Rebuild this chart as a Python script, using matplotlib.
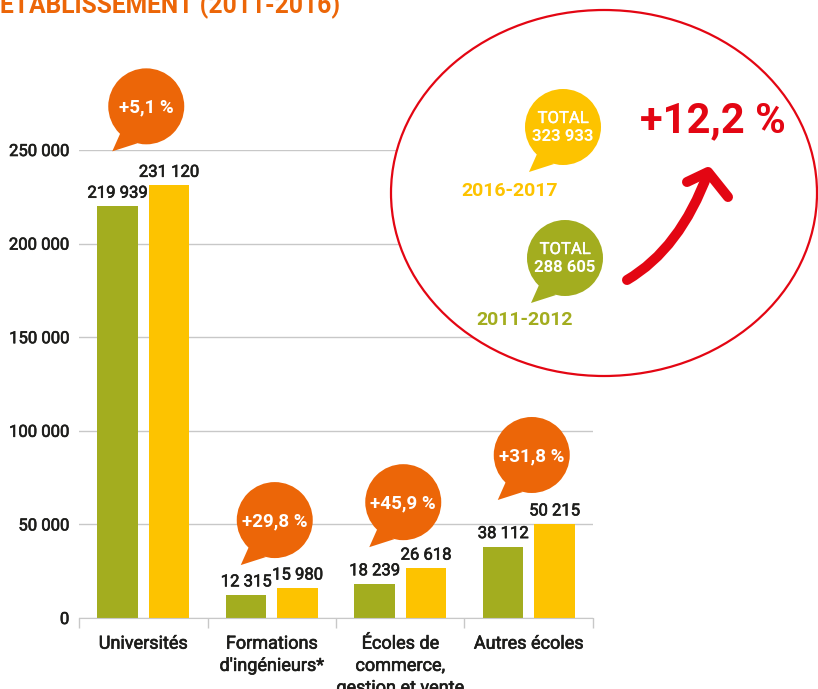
import matplotlib.pyplot as plt
import matplotlib.patheffects as pe
from matplotlib.patches import Circle, Polygon, Ellipse, PathPatch
from matplotlib.path import Path
import numpy as np

plt.rcParams['font.family'] = ['Roboto', 'DejaVu Sans']

# data
categories = ["Universités", "Formations\nd'ingénieurs*",
              "Écoles de\ncommerce,\ngestion et vente", "Autres écoles"]
effectifs_2011 = [219939, 12315, 18239, 38112]
effectifs_2016 = [231120, 15980, 26618, 50215]
y_ticks = [0, 50000, 100000, 150000, 200000, 250000]
periods = ["2011-2012", "2016-2017"]
title = "ÉTABLISSEMENT (2011-2016)"

GREEN = '#a3ad1f'
YELLOW = '#fdc300'
ORANGE = '#ec6608'
RED = '#e30613'
TEXT = '#1d1d1b'
GRID = '#c8c8c8'

# thicken regular Roboto a little so it reads like the medium weight
medium = [pe.withStroke(linewidth=0.45, foreground=TEXT)]


def fmt(v):
    return f"{int(v):,}".replace(",", " ")


def pct(a, b):
    return "+" + f"{(b / a - 1) * 100:.1f}".replace(".", ",") + " %"


W, H = 818, 689
fig = plt.figure(figsize=(W / 100, H / 100), dpi=100)
ax = fig.add_axes([79 / W, 71 / H, 514 / W, 468 / H])

x = np.arange(len(categories))
bw = 0.3125
b1 = ax.bar(x - 0.2, effectifs_2011, bw, color=GREEN, zorder=2)
b2 = ax.bar(x + 0.2, effectifs_2016, bw, color=YELLOW, zorder=2)
for bars, vals in [(b1, effectifs_2011), (b2, effectifs_2016)]:
    for t in ax.bar_label(bars, labels=[fmt(v) for v in vals], padding=4,
                          fontsize=12, color=TEXT):
        t.set_path_effects(medium)

ax.set_xlim(-0.5, 3.5)
ax.set_ylim(0, 250000)
ax.set_yticks(y_ticks, [fmt(v) for v in y_ticks])
ax.set_xticks(x, categories)
ax.set_xticks(np.arange(-0.5, 4, 1), minor=True)
ax.tick_params(axis='x', which='major', length=0, pad=12, labelsize=13, labelcolor=TEXT)
ax.tick_params(axis='x', which='minor', length=7, color=GRID, width=1)
ax.tick_params(axis='y', length=0, pad=7, labelsize=12, labelcolor=TEXT)
for lab in ax.get_xticklabels() + ax.get_yticklabels():
    lab.set_path_effects(medium)
for lab in ax.get_xticklabels():
    lab.set_linespacing(1.3)
ax.grid(axis='y', color=GRID, lw=1)
ax.set_axisbelow(True)
for s in ['top', 'right', 'left']:
    ax.spines[s].set_visible(False)
ax.spines['bottom'].set_color(GRID)

# overlay in pixel coordinates (y down) for the decorations
ov = fig.add_axes([0, 0, 1, 1])
ov.set_xlim(0, W)
ov.set_ylim(H, 0)
ov.axis('off')
ov.patch.set_alpha(0)


def bubble(cx, cy, r, color):
    ov.add_patch(Circle((cx, cy), r, color=color, lw=0, zorder=5))
    ov.add_patch(Polygon([(cx - 26, cy + 27), (cx - 34, cy + 45), (cx - 9, cy + r - 1)],
                         closed=True, color=color, lw=0, zorder=5))


# growth bubbles above each group
bubble_lift_px = [79, 68, 66, 69]
for i, (a, b) in enumerate(zip(effectifs_2011, effectifs_2016)):
    px, py = ax.transData.transform((i, max(a, b)))
    cx, cy = px + 3, H - py - bubble_lift_px[i]
    bubble(cx, cy, 38, ORANGE)
    ov.text(cx, cy + 6.5, pct(a, b), ha='center', va='baseline', fontsize=13.5,
            fontweight='bold', color='white', zorder=6)

# totals inset
tot_2011 = sum(effectifs_2011)
tot_2016 = sum(effectifs_2016)
ov.add_patch(Ellipse((604, 193), 426, 366, fc='white', ec=RED, lw=1.6, zorder=3))

for (cx, cy), tot, col, per, (lx, ly) in [((563, 127), tot_2016, YELLOW, periods[1], (510, 196)),
                                         ((565, 258), tot_2011, GREEN, periods[0], (525, 325))]:
    bubble(cx, cy, 38, col)
    ov.text(cx, cy - 4, "TOTAL", ha='center', va='baseline', fontsize=12,
            color='white', zorder=6,
            path_effects=[pe.withStroke(linewidth=0.3, foreground='white')])
    ov.text(cx, cy + 14, fmt(tot), ha='center', va='baseline', fontsize=12,
            fontweight='bold', color='white', zorder=6)
    ov.text(lx, ly, per, ha='center', va='baseline', fontsize=14,
            fontweight='bold', color=col, zorder=6)

ov.text(713, 132, pct(tot_2011, tot_2016), ha='center', va='baseline', fontsize=30,
        fontweight='bold', color=RED, zorder=6)

arc = Path([(627, 280), (680, 249), (708, 173)], [Path.MOVETO, Path.CURVE3, Path.CURVE3])
ov.add_patch(PathPatch(arc, fc='none', ec=RED, lw=7.2, capstyle='round', zorder=6))
ov.plot([687, 708, 728], [182, 172, 197], color=RED, lw=7.2,
        solid_capstyle='round', solid_joinstyle='round', zorder=6)

fig.text(0, 1 - 12 / H, title, ha='left', va='baseline', fontsize=17.7,
         fontweight='bold', color=ORANGE)

fig.savefig('out.png', dpi=100)
